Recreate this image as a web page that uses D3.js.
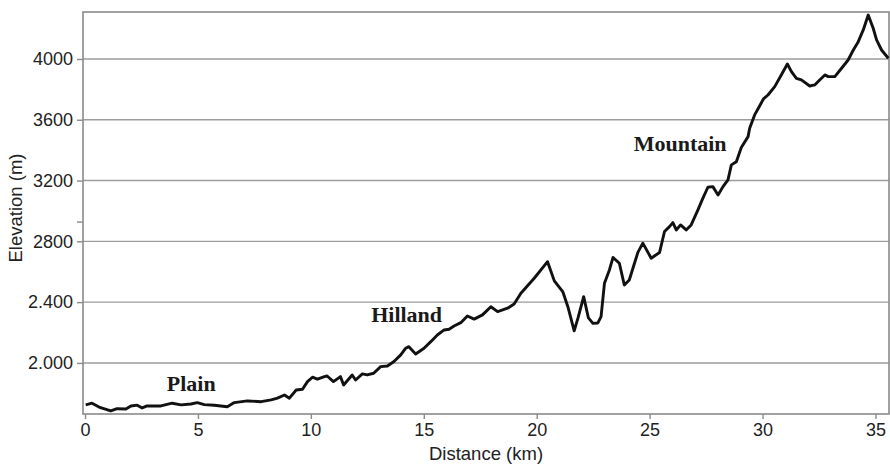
<!DOCTYPE html>
<html>
<head>
<meta charset="utf-8">
<script src="https://cdn.jsdelivr.net/npm/d3@7"></script>
<style>
  html, body { margin: 0; padding: 0; background: #fff; }
  svg { display: block; }
</style>
</head>
<body>
<svg id="chart" width="890" height="465"></svg>
<script>
// Elevation profile along the route: distance (km) and elevation (m)
const distanceKm = [
  0.03, 0.31, 0.62, 1.14, 1.42, 1.81, 2.03, 2.31, 2.53, 2.75,
  3.36, 3.86, 4.25, 4.69, 4.97, 5.28, 5.72, 6.30, 6.61, 7.19,
  7.80, 8.24, 8.52, 8.83, 9.05, 9.35, 9.63, 9.85, 10.07, 10.29,
  10.60, 10.72, 11.00, 11.31, 11.45, 11.83, 11.98, 12.28, 12.50, 12.78,
  13.09, 13.39, 13.68, 13.98, 14.20, 14.34, 14.64, 15.01, 15.31, 15.60,
  15.90, 16.12, 16.34, 16.64, 16.93, 17.23, 17.60, 17.97, 18.27, 18.71,
  19.00, 19.30, 19.89, 20.48, 20.78, 21.16, 21.38, 21.66, 21.83, 22.08,
  22.29, 22.49, 22.71, 22.85, 23.00, 23.22, 23.38, 23.66, 23.88, 24.10,
  24.33, 24.48, 24.70, 25.07, 25.44, 25.66, 25.88, 26.03, 26.18, 26.37,
  26.62, 26.84, 27.14, 27.36, 27.58, 27.80, 28.03, 28.25, 28.47, 28.62,
  28.84, 29.06, 29.36, 29.43, 29.65, 29.87, 30.04, 30.24, 30.54, 30.83,
  31.10, 31.28, 31.50, 31.72, 32.09, 32.31, 32.53, 32.76, 32.91, 33.20,
  33.50, 33.79, 34.02, 34.24, 34.46, 34.68, 34.90, 35.05, 35.27, 35.57
];
const elevationM = [
  1724, 1735, 1710, 1684, 1699, 1697, 1717, 1722, 1704, 1717,
  1717, 1735, 1724, 1730, 1739, 1726, 1722, 1712, 1739, 1750,
  1745, 1757, 1768, 1789, 1768, 1822, 1827, 1877, 1906, 1893,
  1910, 1914, 1877, 1910, 1855, 1921, 1888, 1928, 1921, 1932,
  1976, 1980, 2009, 2053, 2097, 2107, 2059, 2097, 2140, 2184,
  2217, 2222, 2243, 2265, 2309, 2288, 2316, 2370, 2338, 2360,
  2388, 2459, 2557, 2666, 2540, 2467, 2370, 2211, 2296, 2436,
  2296, 2260, 2263, 2305, 2524, 2612, 2694, 2656, 2513, 2546,
  2656, 2727, 2788, 2689, 2727, 2865, 2897, 2923, 2875, 2908,
  2875, 2908, 3007, 3084, 3156, 3160, 3105, 3160, 3204, 3303,
  3324, 3418, 3489, 3544, 3632, 3691, 3737, 3763, 3818, 3895,
  3967, 3917, 3873, 3862, 3822, 3829, 3862, 3895, 3884, 3884,
  3939, 3993, 4059, 4114, 4191, 4289, 4202, 4125, 4059, 4005
];

// Axis ticks and their printed labels
const xTicks = [0, 5, 10, 15, 20, 25, 30, 35];
const yTicks = [2000, 2400, 2800, 3200, 3600, 4000];
const yTickLabels = ["2.000", "2.400", "2800", "3200", "3600", "4000"];
const yMinorTicks = [2930];

// Terrain annotations: name, distance (km), elevation (m)
const zoneNames = ["Plain", "Hilland", "Mountain"];
const zoneKm = [4.7, 14.24, 26.35];
const zoneM = [1816, 2272, 3395];

const xDomain = [-0.09, 35.6];
const yDomain = [1664, 4309];

const margin = { left: 83, right: 1, top: 12, bottom: 51 };
const width = 890, height = 465;

const svg = d3.select("#chart");
const x = d3.scaleLinear().domain(xDomain).range([margin.left, width - margin.right]);
const y = d3.scaleLinear().domain(yDomain).range([height - margin.bottom, margin.top]);

const gridColor = "#9c9c9c";
const axisColor = "#8a8a8a";
const textColor = "#222";
const sans = "'Liberation Sans', Arial, sans-serif";

// Horizontal gridlines
svg.append("g")
  .selectAll("line")
  .data(yTicks)
  .join("line")
  .attr("x1", x.range()[0]).attr("x2", x.range()[1])
  .attr("y1", d => y(d)).attr("y2", d => y(d))
  .attr("stroke", gridColor)
  .attr("stroke-width", 1.4);

// Y axis
const yAxis = d3.axisLeft(y)
  .tickValues(yTicks)
  .tickSize(6)
  .tickPadding(4)
  .tickFormat((d, i) => yTickLabels[i]);
svg.append("g")
  .attr("transform", `translate(${x.range()[0]},0)`)
  .call(yAxis);

svg.append("g")
  .attr("transform", `translate(${x.range()[0]},0)`)
  .call(d3.axisLeft(y).tickValues(yMinorTicks).tickSize(6).tickFormat(""));

// X axis
const xAxis = d3.axisBottom(x)
  .tickValues(xTicks)
  .tickSize(5)
  .tickPadding(4)
  .tickFormat(d3.format("d"));
svg.append("g")
  .attr("transform", `translate(0,${y.range()[0]})`)
  .call(xAxis);

svg.selectAll(".tick line").attr("stroke", axisColor).attr("stroke-width", 1.4);
svg.selectAll(".domain").remove();
svg.selectAll(".tick text")
  .attr("fill", textColor)
  .style("font-family", sans)
  .style("font-size", "18px");

// Plot frame
svg.append("rect")
  .attr("x", x.range()[0])
  .attr("y", y.range()[1])
  .attr("width", x.range()[1] - x.range()[0])
  .attr("height", y.range()[0] - y.range()[1])
  .attr("fill", "none")
  .attr("stroke", axisColor)
  .attr("stroke-width", 1.6);

// Elevation profile line
const profile = distanceKm.map((d, i) => [d, elevationM[i]]);
svg.append("path")
  .datum(profile)
  .attr("fill", "none")
  .attr("stroke", "#111")
  .attr("stroke-width", 2.9)
  .attr("stroke-linejoin", "round")
  .attr("d", d3.line().x(d => x(d[0])).y(d => y(d[1])));

// Terrain labels
svg.append("g")
  .selectAll("text")
  .data(zoneNames)
  .join("text")
  .attr("x", (d, i) => x(zoneKm[i]))
  .attr("y", (d, i) => y(zoneM[i]))
  .attr("text-anchor", "middle")
  .attr("fill", "#1a1a1a")
  .style("font-family", "'Liberation Serif', 'Times New Roman', serif")
  .style("font-weight", "bold")
  .style("font-size", "22px")
  .text(d => d);

// Axis titles
svg.append("text")
  .attr("x", (x.range()[0] + x.range()[1]) / 2)
  .attr("y", 460)
  .attr("text-anchor", "middle")
  .attr("fill", textColor)
  .style("font-family", sans)
  .style("font-size", "18.5px")
  .text("Distance (km)");

svg.append("text")
  .attr("transform", "translate(22,208) rotate(-90)")
  .attr("text-anchor", "middle")
  .attr("fill", textColor)
  .style("font-family", sans)
  .style("font-size", "18.5px")
  .text("Elevation (m)");
</script>
</body>
</html>
